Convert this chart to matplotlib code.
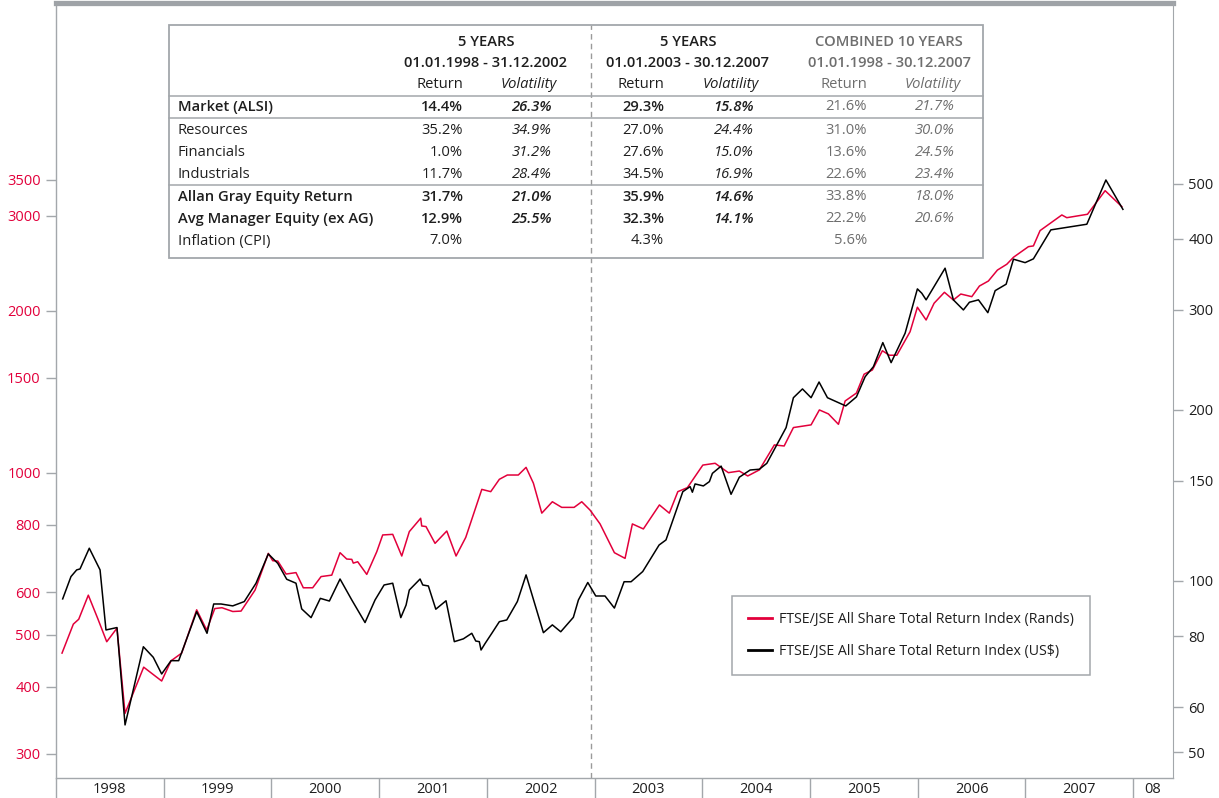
import matplotlib.pyplot as plt
from matplotlib.patches import Rectangle
from matplotlib.lines import Line2D
from matplotlib.ticker import FixedLocator, FixedFormatter, NullLocator

plt.rcParams['font.family'] = ['Open Sans', 'DejaVu Sans']

W, H = 1219, 798
RED = '#e2003b'
AXIS_GREY = '#a3a7ab'
DARK = '#1e1e1e'
SOFT = '#6e6e6e'

# FTSE/JSE All Share Total Return Index (Rands), left axis
rand_t = [1998.056, 1998.161, 1998.211, 1998.300, 1998.387, 1998.471, 1998.566, 1998.641,
          1998.814, 1998.981, 1999.068, 1999.167, 1999.306, 1999.399, 1999.474, 1999.541,
          1999.641, 1999.718, 1999.848, 1999.971, 2000.012, 2000.059, 2000.136, 2000.228,
          2000.296, 2000.383, 2000.461, 2000.560, 2000.637, 2000.699, 2000.746, 2000.760,
          2000.801, 2000.885, 2000.978, 2001.033, 2001.126, 2001.210, 2001.280, 2001.386,
          2001.395, 2001.435, 2001.519, 2001.628, 2001.714, 2001.804, 2001.953, 2002.036,
          2002.116, 2002.190, 2002.292, 2002.364, 2002.432, 2002.510, 2002.608, 2002.695,
          2002.810, 2002.881, 2002.958, 2003.051, 2003.184, 2003.283, 2003.351, 2003.453,
          2003.602, 2003.694, 2003.773, 2003.862, 2004.005, 2004.119, 2004.242, 2004.344,
          2004.422, 2004.530, 2004.669, 2004.760, 2004.846, 2005.010, 2005.087, 2005.171,
          2005.264, 2005.326, 2005.431, 2005.502, 2005.579, 2005.672, 2005.737, 2005.806,
          2005.929, 2005.997, 2006.078, 2006.152, 2006.248, 2006.331, 2006.400, 2006.502,
          2006.573, 2006.656, 2006.740, 2006.827, 2006.889, 2007.028, 2007.074, 2007.136,
          2007.338, 2007.384, 2007.576, 2007.740, 2007.895]
rand_v = [462, 523, 534, 592, 536, 485, 514, 357,
          435, 410, 447, 462, 556, 510, 559, 561,
          552, 553, 605, 708, 686, 685, 648, 652,
          611, 611, 641, 645, 710, 691, 690, 679,
          683, 647, 713, 766, 768, 700, 777, 823,
          796, 794, 739, 779, 700, 758, 931, 922,
          972, 990, 990, 1023, 956, 841, 883, 862,
          862, 883, 852, 803, 710, 693, 803, 786,
          871, 841, 922, 938, 1033, 1041, 1000, 1007,
          986, 1012, 1126, 1121, 1213, 1227, 1308, 1286,
          1230, 1359, 1406, 1524, 1552, 1685, 1653, 1653,
          1828, 2030, 1922, 2065, 2164, 2094, 2148, 2124,
          2223, 2271, 2380, 2440, 2514, 2631, 2639, 2818,
          3013, 2978, 3022, 3343, 3122]

# FTSE/JSE All Share Total Return Index (US$), right axis
usd_t = [1998.062, 1998.139, 1998.192, 1998.223, 1998.309, 1998.409, 1998.464, 1998.566,
         1998.641, 1998.811, 1998.903, 1998.981, 1999.068, 1999.139, 1999.306, 1999.402,
         1999.464, 1999.532, 1999.641, 1999.748, 1999.857, 1999.971, 2000.059, 2000.142,
         2000.228, 2000.281, 2000.368, 2000.454, 2000.538, 2000.637, 2000.746, 2000.869,
         2000.962, 2001.046, 2001.126, 2001.201, 2001.250, 2001.280, 2001.380, 2001.405,
         2001.457, 2001.526, 2001.621, 2001.698, 2001.782, 2001.860, 2001.897, 2001.930,
         2001.946, 2001.983, 2002.046, 2002.116, 2002.185, 2002.283, 2002.364, 2002.525,
         2002.608, 2002.686, 2002.803, 2002.850, 2002.937, 2003.011, 2003.097, 2003.184,
         2003.274, 2003.339, 2003.447, 2003.599, 2003.663, 2003.819, 2003.887, 2003.908,
         2003.933, 2004.010, 2004.066, 2004.094, 2004.175, 2004.267, 2004.344, 2004.444,
         2004.530, 2004.599, 2004.778, 2004.846, 2004.930, 2005.010, 2005.084, 2005.162,
         2005.332, 2005.431, 2005.512, 2005.589, 2005.676, 2005.753, 2005.883, 2005.997,
         2006.038, 2006.078, 2006.254, 2006.331, 2006.424, 2006.480, 2006.564, 2006.651,
         2006.719, 2006.821, 2006.889, 2006.997, 2007.074, 2007.236, 2007.570, 2007.747,
         2007.905]
usd_v = [93.0, 101.8, 104.6, 105.0, 114.2, 104.6, 82.0, 82.8,
         55.8, 76.6, 73.4, 68.6, 72.4, 72.4, 88.3, 80.9,
         91.1, 91.1, 90.4, 92.0, 99.1, 111.6, 107.4, 100.7,
         99.1, 89.3, 86.2, 93.2, 92.2, 100.8, 92.6, 84.5,
         92.6, 98.4, 99.1, 86.2, 90.7, 96.4, 100.8, 98.4,
         98.0, 89.2, 92.3, 78.2, 79.1, 80.9, 78.4, 78.2,
         75.6, 77.6, 80.9, 84.8, 85.4, 92.0, 102.5, 81.1,
         83.7, 81.4, 86.3, 92.6, 99.4, 94.1, 94.1, 89.6,
         99.7, 99.7, 103.9, 115.7, 118.1, 143.6, 146.6, 143.3,
         148.2, 147.0, 149.6, 154.7, 159.3, 142.1, 152.3, 156.8,
         157.3, 161.1, 186.2, 210.2, 217.8, 210.2, 224.0, 210.2,
         203.3, 210.9, 228.9, 238.4, 262.8, 242.3, 273.0, 326.7,
         321.0, 312.5, 355.3, 312.5, 300.0, 309.5, 312.5, 296.7,
         324.4, 333.0, 368.5, 363.4, 369.0, 415.0, 424.6, 508.0,
         451.0]

left_ticks = [300, 400, 500, 600, 800, 1000, 1500, 2000, 3000, 3500]
right_ticks = [50, 60, 80, 100, 150, 200, 300, 400, 500]
years = list(range(1998, 2009))
year_labels = ['1998', '1999', '2000', '2001', '2002', '2003', '2004', '2005', '2006', '2007', '08']

# table content
col_heads = [('5 YEARS', '01.01.1998 - 31.12.2002'),
             ('5 YEARS', '01.01.2003 - 30.12.2007'),
             ('COMBINED 10 YEARS', '01.01.1998 - 30.12.2007')]
row_labels = ['Market (ALSI)', 'Resources', 'Financials', 'Industrials',
              'Allan Gray Equity Return', 'Avg Manager Equity (ex AG)', 'Inflation (CPI)']
row_bold = [True, False, False, False, True, True, False]
ret_a = ['14.4%', '35.2%', '1.0%', '11.7%', '31.7%', '12.9%', '7.0%']
vol_a = ['26.3%', '34.9%', '31.2%', '28.4%', '21.0%', '25.5%', '']
ret_b = ['29.3%', '27.0%', '27.6%', '34.5%', '35.9%', '32.3%', '4.3%']
vol_b = ['15.8%', '24.4%', '15.0%', '16.9%', '14.6%', '14.1%', '']
ret_c = ['21.6%', '31.0%', '13.6%', '22.6%', '33.8%', '22.2%', '5.6%']
vol_c = ['21.7%', '30.0%', '24.5%', '23.4%', '18.0%', '20.6%', '']


def fx(px):
    return px / W


def fy(py):
    return 1 - py / H


fig = plt.figure(figsize=(W / 100, H / 100), dpi=100)
ax = fig.add_axes([fx(56), fy(778), (1173 - 56) / W, (778 - 2.5) / H])
ax2 = ax.twinx()

ax.plot(rand_t, rand_v, color=RED, lw=1.1, zorder=3)
ax2.plot(usd_t, usd_v, color='black', lw=1.1, zorder=3)

ax.set_xlim(1998, 2008.37)
ax.set_yscale('log')
ax2.set_yscale('log')
ax.set_ylim(270.7, 7480)
ax2.set_ylim(45.0, 1043)

# spines
for s in ['left', 'bottom']:
    ax.spines[s].set_color(AXIS_GREY)
    ax.spines[s].set_linewidth(1)
ax.spines['right'].set_visible(False)
ax.spines['top'].set_color('#9fa3a7')
ax.spines['top'].set_linewidth(3.8)
for s in ['left', 'top', 'bottom']:
    ax2.spines[s].set_visible(False)
ax2.spines['right'].set_color(AXIS_GREY)

# y ticks
tick_fs = 10.5
ax.yaxis.set_major_locator(FixedLocator(left_ticks))
ax.yaxis.set_major_formatter(FixedFormatter([str(v) for v in left_ticks]))
ax.yaxis.set_minor_locator(NullLocator())
ax.tick_params(axis='y', length=7, width=1, color=AXIS_GREY, labelcolor=RED,
               labelsize=tick_fs, pad=4)
ax2.yaxis.set_major_locator(FixedLocator(right_ticks))
ax2.yaxis.set_major_formatter(FixedFormatter([str(v) for v in right_ticks]))
ax2.yaxis.set_minor_locator(NullLocator())
ax2.tick_params(axis='y', length=7, width=1, color=AXIS_GREY, labelcolor=DARK,
                labelsize=tick_fs, pad=4)

# x ticks: year dividers, labels centred in each year
ax.xaxis.set_major_locator(FixedLocator(years))
ax.xaxis.set_major_formatter(FixedFormatter([''] * len(years)))
mids = [y + 0.5 for y in years[:-1]] + [(2008 + 2008.37) / 2]
ax.xaxis.set_minor_locator(FixedLocator(mids))
ax.xaxis.set_minor_formatter(FixedFormatter(year_labels))
ax.tick_params(axis='x', which='major', length=20, width=1, color=AXIS_GREY)
ax.tick_params(axis='x', which='minor', length=0, labelsize=tick_fs, labelcolor=DARK, pad=3)

# split between the two periods
ax.axvline(2002.97, ymax=(778 - 25) / (778 - 2.5), color='#9a9a9a', lw=1,
           ls=(0, (4, 3)), zorder=2)

# statistics table
fig.add_artist(Rectangle((fx(169), fy(258)), (983 - 169) / W, (258 - 25) / H,
                         transform=fig.transFigure, fill=False,
                         edgecolor=AXIS_GREY, lw=1.3))
for py in [96, 118, 185]:
    fig.add_artist(Line2D([fx(169), fx(983)], [fy(py), fy(py)],
                          transform=fig.transFigure, color=AXIS_GREY, lw=1.1))

fs = 10.6
head_x = [486, 688, 889]
ret_x = [463, 664, 867]
vol_x = [557, 759, 961]
valvol_x = [552, 754, 955]
for i, (h1, h2) in enumerate(col_heads):
    c = SOFT if i == 2 else DARK
    fig.text(fx(head_x[i]), fy(42), h1, ha='center', va='center', fontsize=fs,
             color=c, weight='semibold')
    fig.text(fx(head_x[i]), fy(63), h2, ha='center', va='center', fontsize=fs,
             color=c, weight='semibold')
    fig.text(fx(ret_x[i]), fy(85), 'Return', ha='right', va='center', fontsize=fs, color=c)
    fig.text(fx(vol_x[i]), fy(85), 'Volatility', ha='right', va='center', fontsize=fs,
             color=c, style='italic')

row_y = [107, 130, 152, 174, 197, 219, 241]
groups = [(ret_a, vol_a), (ret_b, vol_b), (ret_c, vol_c)]
for r, lab in enumerate(row_labels):
    w = 'semibold' if row_bold[r] else 'normal'
    fig.text(fx(178), fy(row_y[r]), lab, ha='left', va='center', fontsize=fs,
             color=DARK, weight=w)
    for g, (rets, vols) in enumerate(groups):
        c = SOFT if g == 2 else DARK
        gw = 'normal' if g == 2 else w
        fig.text(fx(ret_x[g]), fy(row_y[r]), rets[r], ha='right', va='center',
                 fontsize=fs, color=c, weight=gw)
        if vols[r]:
            fig.text(fx(valvol_x[g]), fy(row_y[r]), vols[r], ha='right', va='center',
                     fontsize=fs, color=c, weight=gw, style='italic')

# legend
handles = [Line2D([], [], color=RED, lw=2), Line2D([], [], color='black', lw=2)]
labels = ['FTSE/JSE All Share Total Return Index (Rands)',
          'FTSE/JSE All Share Total Return Index (US$)']
leg = ax2.legend(handles, labels, loc='upper left', bbox_to_anchor=(fx(732), fy(596)),
                 bbox_transform=fig.transFigure, fontsize=10.2, frameon=True,
                 fancybox=False, edgecolor=AXIS_GREY, framealpha=1, borderaxespad=0,
                 handlelength=1.7, handletextpad=0.45, labelspacing=1.15, borderpad=1.15)
leg.get_frame().set_linewidth(1.1)
for t in leg.get_texts():
    t.set_color(DARK)

fig.savefig('out.png', dpi=100)
